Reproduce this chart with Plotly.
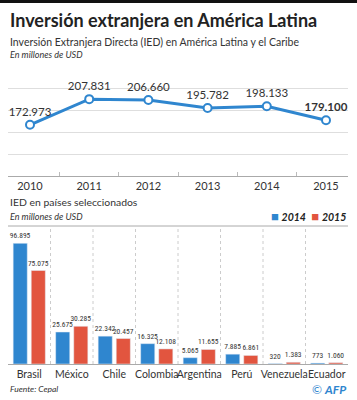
import plotly.graph_objects as go

years = ["2010", "2011", "2012", "2013", "2014", "2015"]
ied_total = [172973, 207831, 206660, 195782, 198133, 179100]

countries = ["Brasil", "México", "Chile", "Colombia", "Argentina", "Perú", "Venezuela", "Ecuador"]
ied_2014 = [96895, 25675, 22342, 16325, 5065, 7885, 320, 773]
ied_2015 = [75075, 30285, 20457, 12108, 11655, 6861, 1383, 1060]

BLUE = "#2f86cf"
RED = "#e2553f"
FONT = "Lato, 'Open Sans', sans-serif"
COND = "'Roboto Condensed', 'Liberation Sans Narrow', Roboto, sans-serif"


def fmt(v):
    return f"{v:,}".replace(",", ".")


line_text = [fmt(v) for v in ied_total]
line_text[-1] = "<b>" + line_text[-1] + "</b>"

fig = go.Figure()

fig.add_trace(go.Scatter(
    x=years, y=[v / 1000 for v in ied_total],
    mode="lines+markers+text",
    line=dict(color=BLUE, width=3),
    marker=dict(size=8, color="white", line=dict(color=BLUE, width=2)),
    text=line_text, textposition="top center",
    textfont=dict(family=FONT, size=11.5, color="#333"),
    cliponaxis=False, showlegend=False,
    xaxis="x", yaxis="y",
))

for name, vals, col in (("2014", ied_2014, BLUE), ("2015", ied_2015, RED)):
    fig.add_trace(go.Bar(
        x=countries, y=[v / 1000 for v in vals], name=name,
        marker_color=col, text=[fmt(v) for v in vals],
        textposition="outside", constraintext="none",
        textfont=dict(family=COND, size=7.5, color="#333"),
        cliponaxis=False, showlegend=False, xaxis="x2", yaxis="y2",
    ))

xdom = [8 / 357, 348 / 357]
fig.update_layout(
    width=357, height=400,
    margin=dict(l=0, r=0, t=0, b=0),
    paper_bgcolor="white", plot_bgcolor="white",
    font=dict(family=FONT, color="#222"),
    barmode="group", bargap=0.15, bargroupgap=0.22,
    xaxis=dict(domain=xdom, anchor="y", type="category", tickangle=0,
               showgrid=False, showline=True, linecolor="#aaa", linewidth=1,
               ticks="inside", tickson="boundaries", ticklen=4, tickcolor="#bbb",
               tickfont=dict(size=11, color="#333")),
    yaxis=dict(domain=[1 - 176 / 400, 1 - 67 / 400], anchor="x",
               range=[103.4, 251.5], tick0=103.4, dtick=29.6,
               showgrid=True, gridcolor="#dedede", gridwidth=1,
               showticklabels=False, zeroline=False, showline=False),
    xaxis2=dict(domain=xdom, anchor="y2", type="category", tickangle=0,
                showgrid=False, showline=True, linecolor="#aaa", linewidth=1,
                ticks="", tickfont=dict(size=10.5, color="#333")),
    yaxis2=dict(domain=[1 - 364 / 400, 1 - 226 / 400], anchor="x2",
                range=[0, 110.8], showgrid=False, showticklabels=False,
                zeroline=False, showline=False),
    showlegend=False,
    separators=",.",
)

shapes = [
    dict(type="rect", xref="paper", yref="paper", x0=0, x1=1, y0=1 - 3 / 400, y1=1,
         fillcolor="#111", line=dict(width=0)),
    dict(type="line", xref="x2 domain", yref="y2 domain", x0=0, x1=1, y0=1, y1=1,
         line=dict(color="#aaa", width=1)),
]
for i in range(len(countries) - 1):
    shapes.append(dict(type="line", xref="x2", yref="y2 domain", x0=i + 0.5, x1=i + 0.5,
                       y0=0, y1=1, line=dict(color="#ccc", width=1, dash="dot")))
fig.update_layout(shapes=shapes)

ann = [
    dict(text="<b>Inversión extranjera en América Latina</b>", x=8 / 357, y=1 - 20 / 400,
         font=dict(size=18, color="#222")),
    dict(text="Inversión Extranjera Directa (IED) en América Latina y el Caribe",
         x=8 / 357, y=1 - 42 / 400, font=dict(size=10.5, color="#333")),
    dict(text="<i>En millones de USD</i>", x=8 / 357, y=1 - 55 / 400,
         font=dict(size=9, color="#333")),
    dict(text="IED en países seleccionados", x=8 / 357, y=1 - 202 / 400,
         font=dict(size=10.4, color="#333")),
    dict(text="<i>En millones de USD</i>", x=8 / 357, y=1 - 216 / 400,
         font=dict(size=9, color="#333")),
    dict(text="<i>Fuente: Cepal</i>", x=8 / 357, y=1 - 389 / 400,
         font=dict(size=8.5, color="#333")),
]
for a in ann:
    a.update(xref="paper", yref="paper", xanchor="left", yanchor="middle", showarrow=False)
ann.append(dict(text="© <b><i>AFP</i></b>", xref="paper", yref="paper", x=348 / 357,
                y=1 - 389 / 400, xanchor="right", yanchor="middle", showarrow=False,
                font=dict(size=12, color=BLUE)))
legend_txt = (f'<span style="color:{BLUE};font-size:13px">■</span> <b><i>2014</i></b>  '
              f'<span style="color:{RED};font-size:13px">■</span> <b><i>2015</i></b>')
ann.append(dict(text=legend_txt, xref="paper", yref="paper", x=348 / 357,
                y=1 - 216 / 400, xanchor="right", yanchor="middle", showarrow=False,
                font=dict(size=10.5, color="#222")))
fig.update_layout(annotations=ann)

fig.write_html("out.html", config={"displayModeBar": False},
               post_script="document.body.style.margin='0';")
